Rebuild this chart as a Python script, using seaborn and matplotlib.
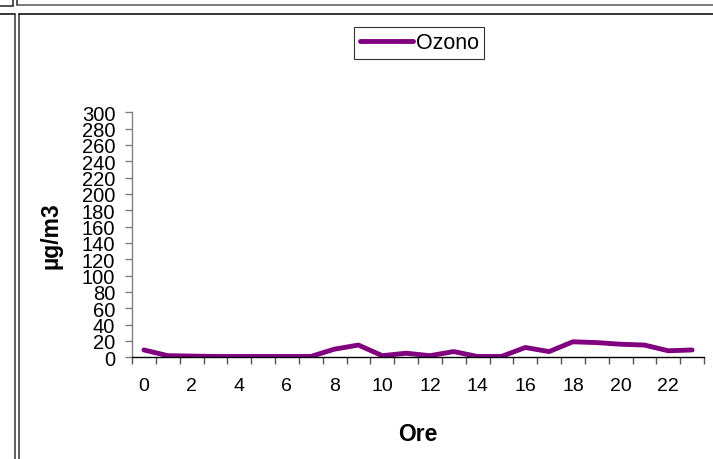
import seaborn as sns
import matplotlib.pyplot as plt
from matplotlib.lines import Line2D
from matplotlib.ticker import FixedLocator

# dati: ozono orario (µg/m3)
ore = list(range(24))
ozono = [9, 2, 1.5, 1, 1, 1, 1, 1, 10, 15, 2, 5, 2, 7, 1, 1, 12, 7, 19, 18, 16, 15, 8, 9]
etichette_x = [str(h) for h in range(0, 24, 2)]
tick_y = list(range(0, 301, 20))

sns.set_style('white')
plt.rcParams['font.family'] = ['Liberation Sans', 'DejaVu Sans']
plt.rcParams['text.color'] = 'black'
plt.rcParams['axes.labelcolor'] = 'black'
plt.rcParams['xtick.labelcolor'] = 'black'
plt.rcParams['ytick.labelcolor'] = 'black'

W, H = 713, 460
fig = plt.figure(figsize=(W / 100, H / 100), dpi=100)


def fx(x):
    return x / W


def fy(y):
    return 1 - y / H


# cornici del documento
def linea(x0, y0, x1, y1, c='#222222'):
    fig.add_artist(Line2D([fx(x0), fx(x1)], [fy(y0), fy(y1)], color=c, lw=1.1,
                          transform=fig.transFigure))


linea(0, 6.5, 12.5, 6.5)
linea(12.5, 0, 12.5, 6.5)
linea(16.5, 0, 16.5, 5.5)
linea(16.5, 5.5, W, 5.5, '#555555')
linea(0, 14.5, 14.5, 14.5, '#000000')
linea(14.5, 14.5, 14.5, H, '#333333')
linea(18.5, 14.5, 18.5, H, '#333333')
linea(18.5, 14.5, W, 14.5, '#000000')

ax = fig.add_axes([fx(132), fy(358.3), fx(704) - fx(132), (358.3 - 113.3) / H])

sns.lineplot(x=ore, y=ozono, ax=ax, color='#800080', lw=3.5, label='Ozono')

ax.set_xlim(-0.5, 23.5)
ax.set_ylim(0, 300)
ax.set_yticks(tick_y)
ax.set_yticklabels([str(v) for v in tick_y], fontsize=14.5)

# tacche tra le categorie, etichette al centro
ax.xaxis.set_major_locator(FixedLocator([h - 0.5 for h in range(25)]))
ax.xaxis.set_major_formatter(plt.NullFormatter())
ax.xaxis.set_minor_locator(FixedLocator(list(range(0, 24, 2))))
ax.set_xticklabels(etichette_x, minor=True, fontsize=14)
ax.tick_params(axis='x', which='major', direction='out', length=5, width=1,
               color='#555555', bottom=True)
ax.tick_params(axis='x', which='minor', length=0, pad=14.0, bottom=True)
ax.tick_params(axis='y', direction='out', length=4.8, width=1, color='#808080',
               pad=7.2, left=True)

for s in ['top', 'right']:
    ax.spines[s].set_visible(False)
ax.spines['left'].set_color('#808080')
ax.spines['bottom'].set_color('#000000')
ax.spines['left'].set_linewidth(1)
ax.spines['bottom'].set_linewidth(1)

ax.set_xlabel('Ore', fontsize=16.5, fontweight='bold')
ax.set_ylabel('µg/m3', fontsize=16.5, fontweight='bold')
ax.xaxis.set_label_coords(0.5, -0.265)
ax.yaxis.set_label_coords(-0.122, 0.5)

leg = ax.legend(loc='center', bbox_to_anchor=(0.502, 1.283), fontsize=15.5,
                frameon=True, fancybox=False, handlelength=2.5, handletextpad=0.1,
                borderpad=0.25, borderaxespad=0)
leg.get_frame().set_edgecolor('#000000')
leg.get_frame().set_linewidth(0.8)

fig.savefig('out.png', dpi=100)
